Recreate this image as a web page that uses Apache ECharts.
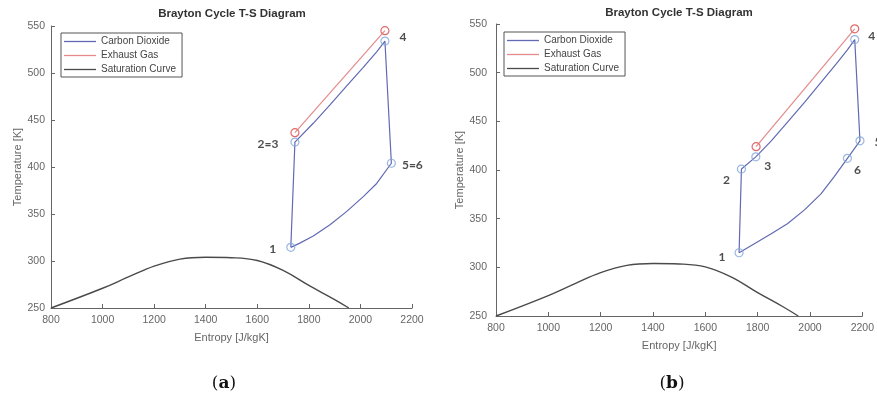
<!DOCTYPE html>
<html>
<head>
<meta charset="utf-8">
<script src="https://cdn.jsdelivr.net/npm/echarts@6/dist/echarts.min.js"></script>
<style>
  html, body { margin: 0; padding: 0; background: #fff; }
  #chart { width: 877px; height: 401px; }
</style>
</head>
<body>
<div id="chart"></div>
<script>
// Axis ticks
const entropyTicks = { min: 800, max: 2200, step: 200 };
const tempTicks = { min: 250, max: 550, step: 50 };

// CO2 saturation dome (same in both panels)
const satS = [800, 1000, 1100, 1200, 1300, 1400, 1500, 1600, 1700, 1800, 1900, 1955];
const satT = [250, 271, 283, 294.5, 302, 304, 303.5, 300.5, 290, 274, 259, 250];

// Panel (a): simple cycle, closed path 1 -> 2=3 -> 4 -> 5=6 -> 1
const co2A_S = [1730, 1746, 1817, 1882, 1946, 2011, 2063, 2095, 2120, 2063, 2011, 1946, 1882, 1817, 1765, 1730];
const co2A_T = [314.5, 426.5, 446.5, 466, 486, 506, 522.5, 534, 404, 382.5, 368.5, 352.5, 338.5, 326.5, 319, 314.5];
const stateA_names = ['1', '2=3', '4', '5=6'];
const stateA_S = [1730, 1746, 2095, 2120];
const stateA_T = [314.5, 426.5, 534, 404];
const exhaustA_S = [1746, 2095];
const exhaustA_T = [436.5, 545];

// Panel (b): recuperated cycle, closed path 1 -> 2 -> 3 -> 4 -> 5 -> 6 -> 1
const co2B_S = [1729, 1738, 1793, 1852, 1915, 1979, 2042, 2105, 2143, 2171, 2191, 2143, 2092, 2042, 1979, 1915, 1852, 1789, 1729];
const co2B_T = [315, 401, 413.5, 430, 449.5, 469.5, 490, 510.5, 523.5, 534, 430, 412, 393, 375.5, 359, 345, 334.5, 324.5, 315];
const stateB_names = ['1', '2', '3', '4', '5', '6'];
const stateB_S = [1729, 1738, 1793, 2171, 2191, 2143];
const stateB_T = [315, 401, 413.5, 534, 430, 412];
const exhaustB_S = [1794, 2171];
const exhaustB_T = [424, 545];

const names = ['Carbon Dioxide', 'Exhaust Gas', 'Saturation Curve'];

// Styling
const CO2_LINE = '#6169b2';
const CO2_MARK = '#7fa5da';
const EXH_LINE = '#e48a8a';
const EXH_MARK = '#e06a6a';
const SAT_LINE = '#4a4a4a';
const AXIS = '#666';
const SANS = '"Liberation Sans", Arial, sans-serif';
const legendColors = [CO2_LINE, EXH_LINE, SAT_LINE];

const labelOffsetA = { '1': [-18, 2], '2=3': [-27, 2], '4': [18, -4], '5=6': [21, 2] };
const labelOffsetB = { '1': [-17, 4], '2': [-15, 11], '3': [12, 9], '4': [17, -3], '5': [18, 1], '6': [10, 12] };

function pairs(xs, ys) { return xs.map((x, i) => [x, ys[i]]); }

function axisPair(idx, yGap, yMargin) {
  const common = {
    gridIndex: idx,
    type: 'value',
    nameLocation: 'middle',
    nameTextStyle: { color: AXIS, fontSize: 11, fontFamily: SANS },
    axisLine: { show: true, onZero: false, lineStyle: { color: AXIS, width: 1 } },
    axisTick: { show: true, inside: true, length: 4, lineStyle: { color: AXIS } },
    splitLine: { show: false }
  };
  return {
    x: Object.assign({}, common, {
      min: entropyTicks.min, max: entropyTicks.max, interval: entropyTicks.step,
      name: 'Entropy [J/kgK]', nameGap: 24,
      axisLabel: { color: AXIS, fontSize: 10.5, fontFamily: SANS, margin: 7, formatter: v => String(v) }
    }),
    y: Object.assign({}, common, {
      min: tempTicks.min, max: tempTicks.max, interval: tempTicks.step,
      name: 'Temperature [K]', nameGap: yGap,
      axisLabel: { color: AXIS, fontSize: 10.5, fontFamily: SANS, margin: yMargin, formatter: v => String(v) }
    })
  };
}

function panelSeries(idx, co2S, co2T, exS, exT, stNames, stS, stT, offsets) {
  return [
    {
      name: names[2], type: 'line', xAxisIndex: idx, yAxisIndex: idx,
      data: pairs(satS, satT), smooth: 0.4, showSymbol: false,
      lineStyle: { color: SAT_LINE, width: 1.4 }, itemStyle: { color: SAT_LINE }
    },
    {
      name: names[0], type: 'line', xAxisIndex: idx, yAxisIndex: idx,
      data: pairs(co2S, co2T), showSymbol: false,
      lineStyle: { color: CO2_LINE, width: 1.2 }, itemStyle: { color: CO2_LINE }
    },
    {
      name: names[1], type: 'line', xAxisIndex: idx, yAxisIndex: idx,
      data: pairs(exS, exT), symbol: 'circle', symbolSize: 8, showSymbol: true,
      lineStyle: { color: EXH_LINE, width: 1.2 },
      itemStyle: { color: 'rgba(255,255,255,0)', borderColor: EXH_MARK, borderWidth: 1.2 }
    },
    {
      name: 'states' + idx, type: 'scatter', xAxisIndex: idx, yAxisIndex: idx,
      symbol: 'circle', symbolSize: 8, z: 5,
      itemStyle: { color: 'rgba(255,255,255,0)', borderColor: CO2_MARK, borderWidth: 1.2 },
      data: stNames.map((n, i) => ({
        value: [stS[i], stT[i]],
        label: {
          show: true, formatter: n, position: 'inside', offset: offsets[n],
          color: '#222', fontSize: 12, fontWeight: 'bold', fontFamily: 'Lato, sans-serif'
        }
      }))
    }
  ];
}

function legendAt(left, top) {
  return {
    orient: 'vertical', left: left, top: top,
    data: names.map((n, i) => ({
      name: n, icon: 'rect',
      itemStyle: { color: legendColors[i], borderWidth: 0 }
    })),
    itemWidth: 32, itemHeight: 1.3, itemGap: 3,
    padding: [3, 6, 2, 3],
    borderColor: '#555', borderWidth: 1, backgroundColor: '#fff',
    selectedMode: false,
    textStyle: { fontSize: 10, color: '#444', fontFamily: SANS, lineHeight: 11 }
  };
}

const axA = axisPair(0, 28, 6);
const axB = axisPair(1, 29, 9);

function titleText(x, y) {
  return {
    type: 'text', x: x, y: y, z: 10,
    style: {
      text: 'Brayton Cycle T-S Diagram', align: 'center', verticalAlign: 'middle',
      fontSize: 11.5, fontWeight: 'bold', fontFamily: SANS, fill: '#333'
    }
  };
}
function caption(x, y, letter) {
  return {
    type: 'text', x: x, y: y, z: 10,
    style: {
      text: '({b|' + letter + '})', align: 'center', verticalAlign: 'middle',
      fontSize: 17, fontFamily: '"DejaVu Serif", serif', fill: '#111',
      rich: { b: { fontSize: 17, fontWeight: 'bold', fontFamily: '"DejaVu Serif", serif', fill: '#111' } }
    }
  };
}

const option = {
  animation: false,
  backgroundColor: '#fff',
  grid: [
    { left: 51, top: 26, width: 361, height: 282 },
    { left: 496, top: 24, width: 369, height: 292 }
  ],
  xAxis: [axA.x, axB.x],
  yAxis: [axA.y, axB.y],
  legend: [legendAt(61, 33), legendAt(504, 32)],
  graphic: [
    titleText(232, 14), titleText(679, 13),
    caption(224, 384, 'a'), caption(672, 384, 'b')
  ],
  series: [].concat(
    panelSeries(0, co2A_S, co2A_T, exhaustA_S, exhaustA_T, stateA_names, stateA_S, stateA_T, labelOffsetA),
    panelSeries(1, co2B_S, co2B_T, exhaustB_S, exhaustB_T, stateB_names, stateB_S, stateB_T, labelOffsetB)
  )
};

const chart = echarts.init(document.getElementById('chart'), null, { renderer: 'canvas' });
chart.setOption(option);
</script>
</body>
</html>
